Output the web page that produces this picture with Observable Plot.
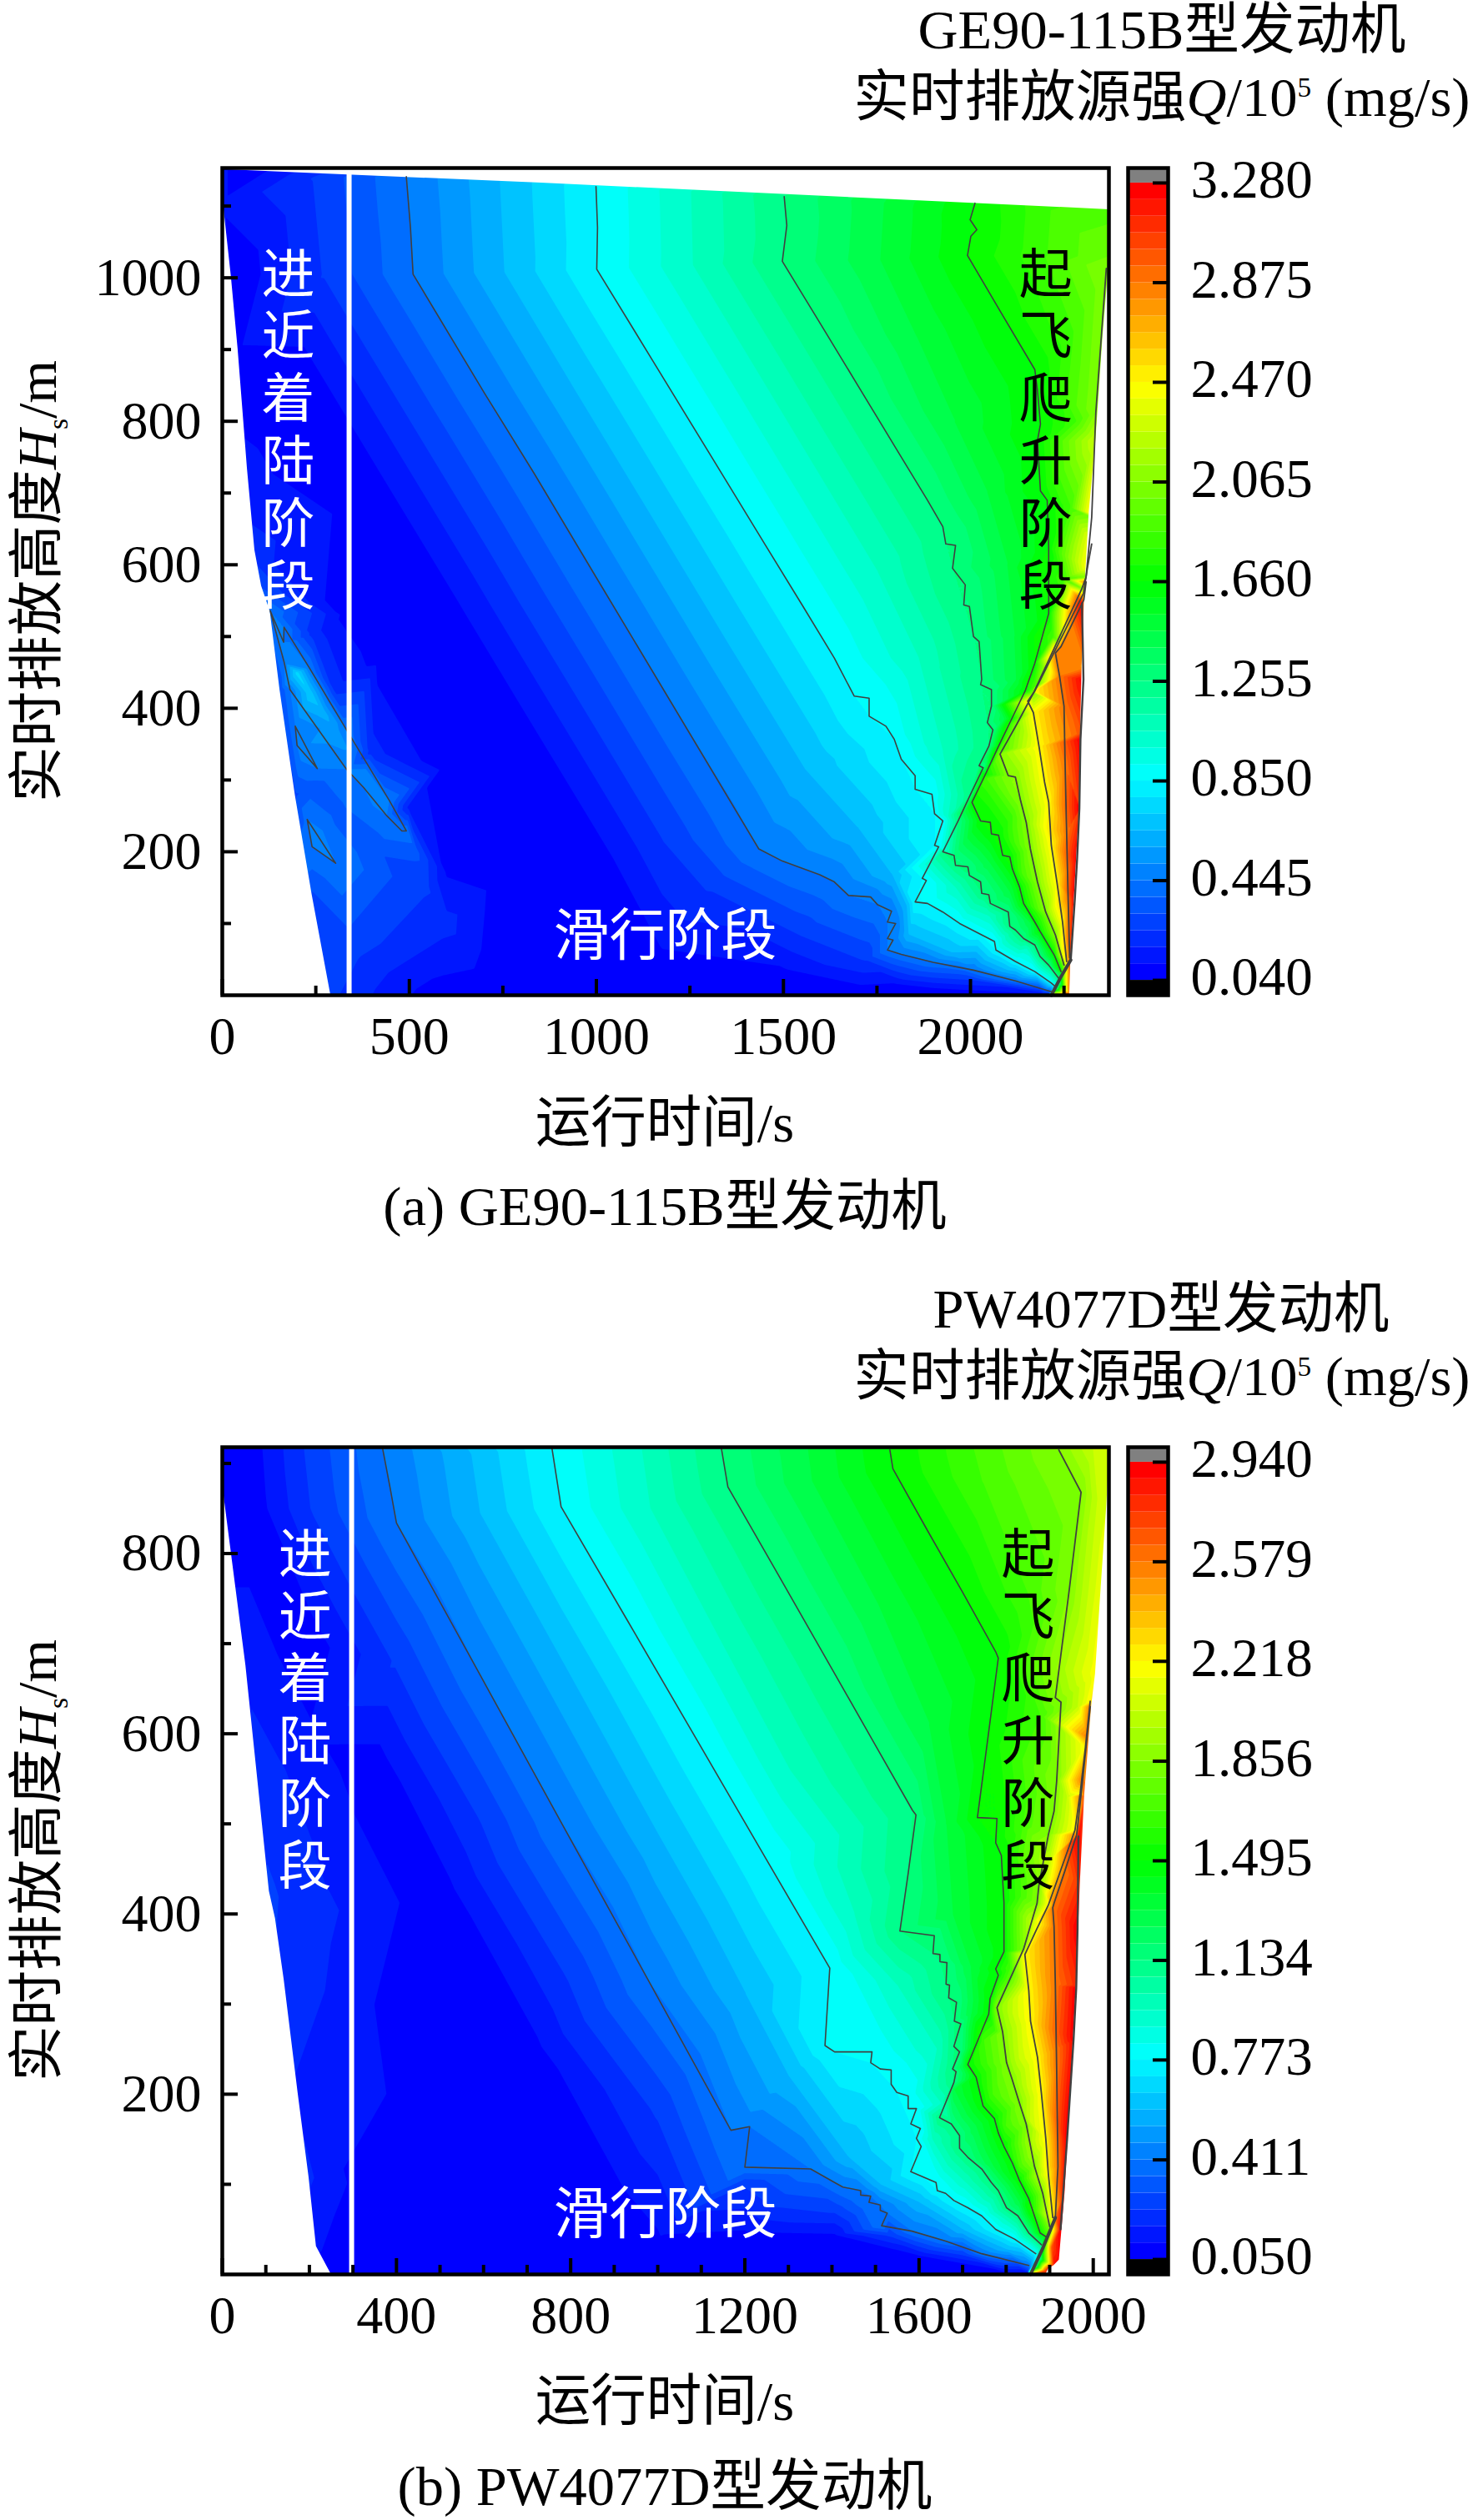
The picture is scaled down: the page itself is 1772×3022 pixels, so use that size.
<!DOCTYPE html>
<html><head><meta charset="utf-8">
<script src="https://cdn.jsdelivr.net/npm/d3@7"></script>
<script src="https://cdn.jsdelivr.net/npm/@observablehq/plot@0.6"></script>
<style>
html,body{margin:0;padding:0;background:#fff}
#page{position:relative;width:1772px;height:3022px;overflow:hidden;background:#fff;color:#000;
 font-family:"Liberation Serif","Noto Sans CJK SC",serif}
#page svg{position:absolute;background:transparent;overflow:visible}
.t{position:absolute;font-size:66.5px;line-height:1;white-space:nowrap;transform:translate(-50%,-50%)}
.r{transform:translate(-50%,-50%) rotate(-90deg)}
sup,sub{font-size:.5em;line-height:0}
</style></head><body><div id="page"></div>
<script>
// ---------- chart (a) GE90-115B : values as [time, height] ----------
const scaleA = {min:0.04,max:3.28,ticks:[0.040,0.445,0.850,1.255,1.660,2.065,2.470,2.875,3.280]};
const xMajorA=[0,500,1000,1500,2000], xMinorA=[250,750,1250,1750,2250];
const yMajorA=[200,400,600,800,1000], yMinorA=[100,300,500,700,900,1100];
const L1a=[[492,1141],[503,1070],[510,1005],[700,840],[834,727],[1000,582],[1200,408],[1434,204],[1497,187],[1597,168],[1636,158],[1674,139],[1733,137],[1752,126],[1789,117],[1778,102],[1800,100],[1778,79],[1793,77],[1778,63],[1815,57],[1900,46],[2008,35],[2120,20],[2216,5]];
const L2a=[[999,1127],[1003,1070],[1001,1012],[1150,885],[1300,757],[1450,629],[1550,544],[1636,470],[1689,417],[1729,414],[1729,389],[1774,375],[1796,357],[1815,329],[1852,306],[1852,287],[1897,280],[1904,253],[1926,243],[1904,209],[1915,207],[1871,163],[1882,160],[1852,130],[1885,128],[1926,116],[1971,100],[2023,86],[2064,75],[2068,63],[2120,47],[2172,33],[2216,17],[2227,12]];
const L3a=[[1502,1113],[1509,1073],[1497,1023],[1600,935],[1700,849],[1800,763],[1885,690],[1926,653],[1934,629],[1960,627],[1952,595],[1986,572],[1982,544],[1997,542],[2008,500],[2023,493],[2030,440],[2027,433],[2056,426],[2056,403],[2045,380],[2060,370],[2049,347],[2023,320],[2034,317],[2000,280],[1967,243],[1926,200],[1956,195],[1960,181],[1993,179],[1997,167],[2027,158],[2030,142],[2049,140],[2053,128],[2101,116],[2105,96],[2120,91],[2142,79],[2172,70],[2186,54],[2209,42],[2235,24]];
const L4a=[[2012,1104],[1999,1081],[2017,1067],[2001,1058],[1992,1031],[2080,953],[2172,872],[2179,843],[2187,796],[2179,773],[2187,703],[2205,690],[2209,625],[2209,532],[2172,463],[2146,424],[2110,385],[2075,347],[2040,308],[2004,269],[2027,243],[2053,241],[2056,225],[2075,223],[2086,195],[2105,193],[2112,176],[2131,151],[2142,128],[2172,102],[2186,89],[2224,56],[2242,33]];
const L5a=[[2363,1013],[2350,920],[2335,812],[2324,666],[2309,583],[2298,567],[2233,494],[2168,421],[2124,378],[2079,336],[2101,306],[2120,304],[2134,271],[2149,241],[2160,204],[2179,158],[2201,116],[2227,84],[2250,42]];
const L6a=[[2324,629],[2313,597],[2302,560],[2237,492],[2172,424],[2153,410],[2168,394],[2183,347],[2198,297],[2209,269],[2216,209],[2231,158],[2246,102],[2257,47]];
const L7a=[[2309,576],[2303,551],[2272,518],[2242,486],[2227,477],[2238,445],[2250,403],[2253,320],[2257,227],[2261,135],[2265,52]];
const L8a=[[2298,546],[2302,440],[2294,357],[2291,260],[2285,190],[2279,135],[2268,49]];
const baseA=[[2268,49],[2240,24],[2216,0]];
const ridgeA=[[128,536],[165,465],[181,426],[332,315],[377,290],[440,250],[480,229],[492,229],[447,271],[332,370],[232,457],[165,513],[164,492],[128,536]];
const triA1=[[195,375],[200,348],[254,316],[195,375]];
const triA2=[[227,245],[240,207],[303,184],[227,245]];
const M0a=[[70,1150],[45,1005],[200,870],[400,697],[600,525],[800,352],[1000,180],[1180,25],[1500,10],[1900,5]];
const M0la=[[1170,60],[1500,35],[1800,15],[2190,1]];
const M1a=[[250,1140],[275,1005],[500,810],[800,550],[1000,378],[1180,222],[1300,150],[1550,85],[1720,50],[2000,22],[2210,3]];
const M2a=[[745,1135],[757,1008],[950,840],[1150,668],[1350,495],[1560,316],[1700,235],[1790,170],[1830,125],[1835,85],[1950,60],[2100,35],[2220,10]];
const M3a=[[1250,1120],[1255,1018],[1400,893],[1600,720],[1750,590],[1860,470],[1925,340],[1940,250],[1895,185],[1960,150],[2050,110],[2150,65],[2235,18]];
const M4a=[[1760,1105],[1750,1025],[1850,915],[1950,800],[2040,700],[2095,600],[2115,500],[2120,440],[2090,385],[2050,335],[1985,256],[2052,183],[2105,143],[2160,100],[2240,30]];
const M5a=[[2200,1100],[2190,1030],[2270,920],[2280,800],[2265,680],[2250,580],[2220,500],[2170,430],[2077,342],[2040,302],[2110,250],[2135,170],[2190,110],[2245,40]];
const extraA=[[0,1153,.12],[0,1105,.12],[24,1002,.09],[42,901,.1],[57,801,.1],[67,734,.12],[87,620,.2],[105,570,.3],[154,426,.32],[195,279,.3],[240,140,.3],[290,0,.26],[0,0,.26],
 [165,490,.5],[200,449,.75],[235,420,.7],[269,395,.62],[300,370,.55],[332,345,.52],[380,310,.5],[430,265,.47],[215,345,.5],[250,212,.5],
 [247,503,.2],[300,430,.2],[400,340,.2],[500,262,.15],[600,170,.1],[720,60,.08],[330,530,.08],[420,470,.07],[600,320,.06],[760,170,.06],
 [240,290,.34],[300,260,.35],[400,210,.33],[520,200,.33],[550,150,.25],[600,100,.2],[650,70,.15],[500,160,.27],[350,60,.26],[420,0,.16],[550,0,.08],[700,0,.06],[800,0,.05],[1200,0,.05],[1700,0,.05],[2205,0,.08],
 [2222,0,2.5],[2250,0,3.0],[2264,0,3.28],
 [2372,1153,1.85],[2372,1095,1.9],[2372,1030,2.0],[2356,920,2.15],[2338,773,2.3],[2320,672,2.5],[2308,560,2.6],[2301,458,2.8],[2297,366,3.0],[2294,260,3.1],[2271,49,3.2],[2268,0,3.1],[2372,0,3.0]];
const leftA=[[0,1153],[0,1105],[3,1102],[24,1002],[42,901],[57,801],[67,734],[87,620],[105,570],[128,535],[154,426],[195,279],[240,140],[290,0]];
const rightA=[[2372,1153],[2372,1030],[2354,920],[2335,773],[2317,672],[2305,560],[2298,458],[2294,366],[2291,260],[2268,49],[2265,0]];
const topA=[[0,1151],[853,1132],[2372,1095]];
const ruleA=[339];

// ---------- chart (b) PW4077D ----------
const scaleB = {min:0.05,max:2.94,ticks:[0.050,0.411,0.773,1.134,1.495,1.856,2.218,2.579,2.940]};
const xMajorB=[0,400,800,1200,1600,2000], xMinorB=[100,200,300,500,600,700,900,1000,1100,1300,1400,1500,1700,1800,1900];
const yMajorB=[200,400,600,800], yMinorB=[100,300,500,700,900];
const L1b=[[368,917],[385,874],[400,834],[590,667],[780,500],[980,325],[1168,160],[1211,164],[1200,119],[1351,117],[1406,102],[1425,97],[1466,93],[1466,88],[1489,87],[1485,80],[1511,77],[1511,71],[1527,68],[1514,54],[1584,48],[1661,37],[1744,23],[1852,10]];
const L2b=[[757,917],[778,852],[930,726],[1090,593],[1250,460],[1395,340],[1384,254],[1406,247],[1492,247],[1489,235],[1511,228],[1536,227],[1536,211],[1549,202],[1575,198],[1575,184],[1594,184],[1581,167],[1603,162],[1594,151],[1605,142],[1581,114],[1610,108],[1639,102],[1642,93],[1661,90],[1680,82],[1712,74],[1744,65],[1776,50],[1820,39],[1868,23]];
const L3b=[[1146,917],[1161,874],[1270,782],[1400,672],[1500,587],[1585,515],[1593,510],[1575,445],[1556,381],[1635,376],[1632,356],[1648,355],[1648,347],[1664,346],[1662,322],[1670,321],[1668,307],[1686,302],[1681,281],[1696,278],[1680,253],[1693,247],[1677,228],[1685,225],[1680,213],[1647,174],[1674,167],[1693,154],[1693,140],[1712,130],[1744,117],[1766,102],[1782,93],[1801,74],[1827,65],[1852,46],[1881,33]];
const L4b=[[1533,915],[1540,894],[1620,825],[1700,757],[1776,691],[1782,684],[1758,595],[1734,507],[1779,506],[1776,479],[1789,465],[1792,438],[1795,413],[1795,373],[1795,358],[1776,339],[1782,332],[1763,306],[1760,289],[1712,233],[1731,219],[1747,187],[1773,173],[1782,157],[1795,142],[1814,124],[1830,105],[1852,84],[1878,46],[1891,42]];
const L5b=[[1921,915],[1972,868],[1945,760],[1913,640],[1926,635],[1916,547],[1910,514],[1897,488],[1875,431],[1871,412],[1840,361],[1779,296],[1792,269],[1801,235],[1814,216],[1830,191],[1846,167],[1865,120],[1884,90],[1900,53]];
const L6b=[[1993,636],[1982,585],[1970,534],[1958,493],[1897,410],[1870,383],[1843,355],[1852,315],[1856,281],[1872,241],[1881,201],[1891,151],[1897,111],[1907,63]];
const L7b=[[1993,630],[1986,597],[1976,550],[1962,488],[1935,448],[1910,412],[1907,407],[1910,386],[1913,321],[1916,228],[1919,120],[1913,63]];
const L8b=[[1966,486],[1964,383],[1961,318],[1955,262],[1940,150],[1925,50]];
const baseB=[[1913,63],[1885,30],[1856,0]];
const M0b=[[60,917],[70,850],[200,700],[350,560],[500,418],[700,243],[900,67],[960,0]];
const M0lb=[[1000,40],[1200,45],[1406,43],[1600,20],[1840,2]];
const M1b=[[195,917],[210,850],[400,680],[600,505],[800,330],[1000,180],[1200,100],[1406,70],[1533,43],[1700,22],[1850,4]];
const M2b=[[570,910],[590,845],[780,680],[1000,488],[1200,312],[1300,220],[1437,130],[1510,100],[1600,80],[1700,50],[1800,28],[1860,10]];
const M3b=[[960,917],[980,850],[1150,695],[1300,560],[1450,400],[1550,320],[1640,250],[1650,190],[1630,150],[1700,105],[1800,60],[1875,18]];
const M4b=[[1340,917],[1350,880],[1500,745],[1620,610],[1660,500],[1675,400],[1718,340],[1720,290],[1700,230],[1680,205],[1730,165],[1770,120],[1830,80],[1885,40]];
const M5b=[[1730,917],[1750,880],[1850,760],[1880,620],[1840,500],[1835,420],[1810,340],[1775,270],[1750,260],[1770,200],[1800,165],[1830,120],[1870,70],[1895,44]];
const M6b=[[2000,917],[2010,860],[1990,760],[1965,630],[1940,530],[1900,460],[1860,390],[1815,290],[1830,240],[1855,170],[1880,110],[1903,58]];
const extraB=[[0,918,.1],[0,850,.07],[54,676,.15],[85,560,.2],[108,425,.24],[142,327,.22],[174,201,.16],[199,108,.18],[216,31,.12],[247,3,.08],[0,0,.15],
 [205,595,.12],[200,400,.2],[350,300,.11],[500,200,.08],[300,100,.1],[500,50,.07],[290,0,.06],[600,0,.055],[1300,0,.06],[1800,0,.06],[1850,0,.07],
 [1864,0,2.6],[1890,4,2.75],[1905,30,2.7],
 [2037,918,2.1],[2037,860,2.1],[2019,762,2.15],[2006,666,2.2],[1997,630,2.4],[1981,531,2.7],[1971,432,2.8],[1962,321,2.8],[1955,259,2.9],[1936,90,2.9],[1923,16,2.94],[1911,10,2.9],[1898,6,2.9],[1892,0,2.8],[2037,0,2.5]];
const leftB=[[0,918],[0,878],[54,676],[108,425],[122,395],[142,327],[174,201],[199,108],[216,31],[247,3],[250,0]];
const rightB=[[2040,918],[2036,900],[2031,854],[2018,762],[2005,666],[1996,630],[1980,531],[1970,432],[1961,321],[1954,259],[1935,90],[1922,16],[1910,10],[1897,6],[1891,0]];
const ruleB=[297];

const rainbow=["#0000ff","#00ffff","#00ff00","#ffff00","#ff0000"];
const FONT='"Liberation Serif","Noto Sans CJK SC",serif';
const approach="进\n近\n着\n陆\n阶\n段", takeoff="起\n飞\n爬\n升\n阶\n段", taxi="滑行阶段";
const page=document.getElementById("page");

function colorOf(s){
  const d=(s.max-s.min)/48;
  return {type:"linear",clamp:true,range:rainbow,domain:d3.range(5).map(i=>s.min+i*(s.max-d-s.min)/4)};
}
function drawChart(o){
  const d=(o.s.max-o.s.min)/48;
  const levels=d3.range(48).map(i=>o.s.min+i*d);
  const samples=o.lines.flatMap(([pts,q])=>pts.map(([t,H])=>({t,H,q}))).concat(o.extra.map(([t,H,q])=>({t,H,q})));
  const W=1063, H=o.bottom-201;
  const main=Plot.plot({
    width:1400,height:1300,marginLeft:266,marginRight:71,marginTop:201,marginBottom:1300-o.bottom,
    style:{background:"transparent",fontFamily:FONT,overflow:"visible"},
    x:{domain:[0,o.xMax]},y:{domain:[0,o.yMax]},color:colorOf(o.s),
    marks:[
      Plot.contour(samples,{x:"t",y:"H",fill:"q",interpolate:"barycentric",thresholds:levels,pixelSize:1,stroke:"none"}),
      Plot.areaX(o.left,{y:p=>p[1],x1:0,x2:p=>p[0],fill:"white"}),
      Plot.areaX(o.right,{y:p=>p[1],x1:p=>p[0],x2:o.xMax,fill:"white"}),
      o.top?Plot.areaY(o.top,{x:p=>p[0],y1:p=>p[1],y2:o.yMax,fill:"white"}):null,
      ...o.drawn.map(([pts,w])=>Plot.line(pts,{x:p=>p[0],y:p=>p[1],stroke:"#404040",strokeWidth:w,curve:"linear"})),
      Plot.ruleX(o.rule,{stroke:"white",strokeWidth:6}),
      Plot.ruleX(o.xMajor,{insetTop:H-19,strokeWidth:4,stroke:"black"}),
      Plot.ruleX(o.xMinor,{insetTop:H-11,strokeWidth:4,stroke:"black"}),
      Plot.ruleY(o.yMajor,{insetRight:W-19,strokeWidth:4,stroke:"black"}),
      Plot.ruleY(o.yMinor,{insetRight:W-11,strokeWidth:4,stroke:"black"}),
      Plot.axisX(o.xMajor,{anchor:"bottom",tickSize:0,tickPadding:25,fontSize:64,label:null,tickFormat:d=>String(d),fontFamily:FONT}),
      Plot.axisY(o.yMajor,{anchor:"left",tickSize:0,tickPadding:25,fontSize:64,label:null,tickFormat:d=>String(d),fontFamily:FONT}),
      Plot.text([approach],{x:o.txt[0][0],y:o.txt[0][1],fill:"white",fontSize:64,lineHeight:1.17,fontFamily:FONT}),
      Plot.text([takeoff],{x:o.txt[1][0],y:o.txt[1][1],fill:"black",fontSize:64,lineHeight:1.17,fontFamily:FONT}),
      Plot.text([taxi],{x:o.txt[2][0],y:o.txt[2][1],fill:"white",fontSize:67,fontFamily:FONT}),
      Plot.frame({stroke:"black",strokeWidth:4.5})
    ]
  });
  main.style.left="0px";main.style.top=o.dy+"px";
  page.appendChild(main);
  // colour bar
  const pad=d*0.9;
  const bands=d3.range(48).map(i=>({lo:o.s.min+i*d,hi:o.s.min+(i+1)*d,q:o.s.min+i*d}));
  const bar=Plot.plot({
    width:300,height:1300,marginLeft:12,marginRight:240,marginTop:201,marginBottom:1300-o.bottom,
    style:{background:"transparent",fontFamily:FONT,overflow:"visible"},
    x:{domain:[0,1],axis:null},y:{domain:[o.s.min-pad,o.s.max+pad]},color:colorOf(o.s),
    marks:[
      Plot.rect(bands,{x1:0,x2:1,y1:"lo",y2:"hi",fill:"q"}),
      Plot.rect([[o.s.min-pad,o.s.min]],{x1:0,x2:1,y1:p=>p[0],y2:p=>p[1],fill:"black"}),
      Plot.rect([[o.s.max,o.s.max+pad]],{x1:0,x2:1,y1:p=>p[0],y2:p=>p[1],fill:"#808080"}),
      Plot.ruleY(o.s.ticks,{insetLeft:30,strokeWidth:4,stroke:"black"}),
      Plot.axisY(o.s.ticks,{anchor:"right",tickSize:0,tickPadding:27,dy:-3,fontSize:65,label:null,tickFormat:d3.format(".3f"),fontFamily:FONT}),
      Plot.frame({stroke:"black",strokeWidth:4.5})
    ]
  });
  bar.style.left="1340px";bar.style.top=o.dy+"px";
  page.appendChild(bar);
}
const Qa=scaleA.ticks, Qb=scaleB.ticks;
drawChart({s:scaleA,dy:0,bottom:1193,xMax:2370,yMax:1153,
  lines:[[L1a,Qa[1]],[L2a,Qa[2]],[L3a,Qa[3]],[L4a,Qa[4]],[L5a,Qa[5]],[L6a,Qa[6]],[L7a,Qa[7]],[L8a,Qa[8]],
         [ridgeA,.445],[triA1,.445],[triA2,.445],[M0a,.06],[M0la,.1],[M1a,.25],[M2a,.65],[M3a,1.05],[M4a,1.45],[M5a,1.85]],
  extra:extraA,left:leftA,right:rightA,top:topA,rule:ruleA,
  drawn:[[L1a,1.6],[L2a,1.6],[L3a,1.6],[L4a,1.6],[L5a,1.8],[L6a,1.8],[L7a,1.8],[L8a,2.4],[baseA,4],[ridgeA,1.6],[triA1,1.6],[triA2,1.6]],
  xMajor:xMajorA,xMinor:xMinorA,yMajor:yMajorA,yMinor:yMinorA,
  txt:[[176,790],[2201,790],[1184,81]]});
drawChart({s:scaleB,dy:1534,bottom:1193,xMax:2036,yMax:918,
  lines:[[L1b,Qb[1]],[L2b,Qb[2]],[L3b,Qb[3]],[L4b,Qb[4]],[L5b,Qb[5]],[L6b,Qb[6]],[L7b,Qb[7]],[L8b,Qb[8]],
         [M0b,.07],[M0lb,.1],[M1b,.24],[M2b,.59],[M3b,.95],[M4b,1.31],[M5b,1.68],[M6b,2.04]],
  extra:extraB,left:leftB,right:rightB,top:null,rule:ruleB,
  drawn:[[L1b,1.6],[L2b,1.6],[L3b,1.6],[L4b,1.6],[L5b,1.8],[L6b,1.8],[L7b,1.8],[L8b,2.4],[baseB,4]],
  xMajor:xMajorB,xMinor:xMinorB,yMajor:yMajorB,yMinor:yMinorB,
  txt:[[190,628],[1850,628],[1017,66]]});

const texts=[
 ["GE90-115B型发动机",1393,36,0],
 ["实时排放源强<i>Q</i>/10<sup>5</sup> (mg/s)",1393,117,0],
 ["实时排放高度<i>H</i><sub>s</sub>/m",45,697,1],
 ["运行时间/s",797,1347,0],
 ["(a) GE90-115B型发动机",797,1447,0],
 ["PW4077D型发动机",1392,1570,0],
 ["实时排放源强<i>Q</i>/10<sup>5</sup> (mg/s)",1393,1651,0],
 ["实时排放高度<i>H</i><sub>s</sub>/m",45,2231,1],
 ["运行时间/s",797,2880,0],
 ["(b) PW4077D型发动机",797,2982,0]
];
for(const [h,x,y,r] of texts){
  const e=document.createElement("div");
  e.className="t"+(r?" r":"");e.innerHTML=h;e.style.left=x+"px";e.style.top=y+"px";
  page.appendChild(e);
}
</script></body></html>
